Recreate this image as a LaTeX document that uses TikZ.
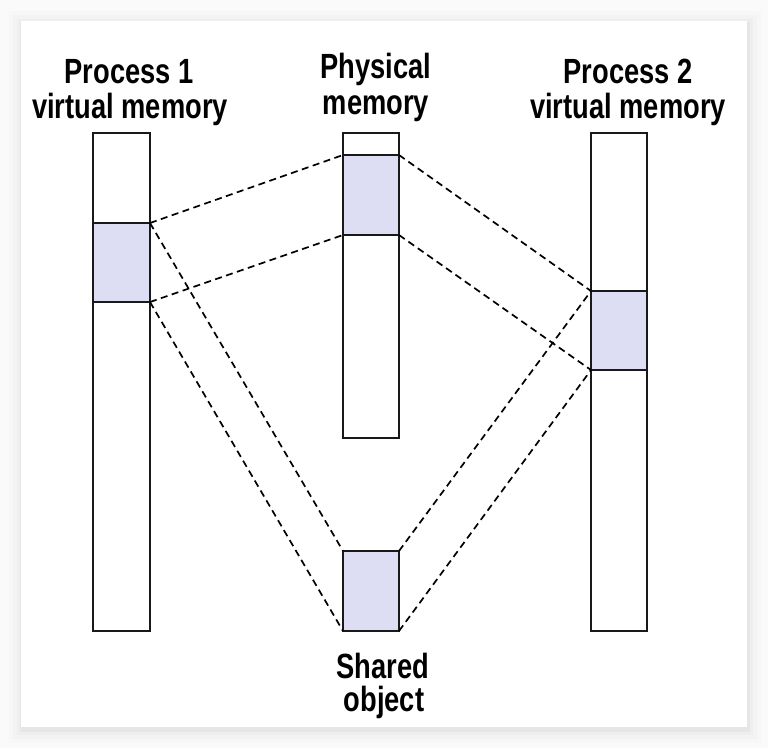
\documentclass[tikz,border=0pt]{standalone}
\usepackage{fontspec}
\newfontfamily\labfont[FakeStretch=0.78]{Liberation Sans}
\definecolor{shade}{RGB}{221,221,243}
\begin{document}
\begin{tikzpicture}[x=1pt,y=-1pt,
  bar/.style={draw=black!90,line width=2.3pt,fill=white,inner sep=0pt,outer sep=0pt,anchor=north west},
  seg/.style={draw=black!90,line width=2.3pt,fill=shade,inner sep=0pt,outer sep=0pt,anchor=north west},
  link/.style={line width=1.7pt,dash pattern=on 7pt off 4.5pt},
  lab/.style={font=\labfont\bfseries\fontsize{35}{40}\selectfont,anchor=base,inner sep=0pt}]
\useasboundingbox (0,0) rectangle (768,748);
\fill[black!2] (0,0) rectangle (768,748);
\foreach \i/\o in {14/0.01,10/0.015,6/0.02,3/0.03}{
  \fill[black,opacity=\o] (21-\i+2,21-\i+4) rectangle (747+\i,727+\i+2);
}
\fill[white] (21,21) rectangle (747,727);
% bars
\node[bar,minimum width=57,minimum height=498] (p1) at (93,133) {};
\node[bar,minimum width=56,minimum height=305] (ph) at (343,133) {};
\node[bar,minimum width=56,minimum height=498] (p2) at (591,133) {};
% shaded segments
\node[seg,minimum width=57,minimum height=79] (p1s) at (93,223) {};
\node[seg,minimum width=56,minimum height=80] (phs) at (343,155) {};
\node[seg,minimum width=56,minimum height=79] (p2s) at (591,291) {};
\node[seg,minimum width=56,minimum height=80] (sh) at (343,551) {};
% links
\draw[link] (p1s.north east) -- (phs.north west);
\draw[link] (p1s.south east) -- (phs.south west);
\draw[link] (p1s.north east) -- (sh.north west);
\draw[link] (p1s.south east) -- (sh.south west);
\draw[link] (phs.north east) -- (p2s.north west);
\draw[link] (phs.south east) -- (p2s.south west);
\draw[link] (sh.north east) -- (p2s.north west);
\draw[link] (sh.south east) -- (p2s.south west);
% labels
\node[lab] (t1a) at (129,83) {Process 1};
\node[lab] (t1b) at (130,118) {virtual memory};
\node[lab] (t2a) at (376,78) {Physical};
\node[lab] (t2b) at (376,114) {memory};
\node[lab] (t3a) at (628,83) {Process 2};
\node[lab] (t3b) at (628,118) {virtual memory};
\node[lab] (t4a) at (383,678) {Shared};
\node[lab] (t4b) at (384,711) {object};
\end{tikzpicture}
\end{document}
